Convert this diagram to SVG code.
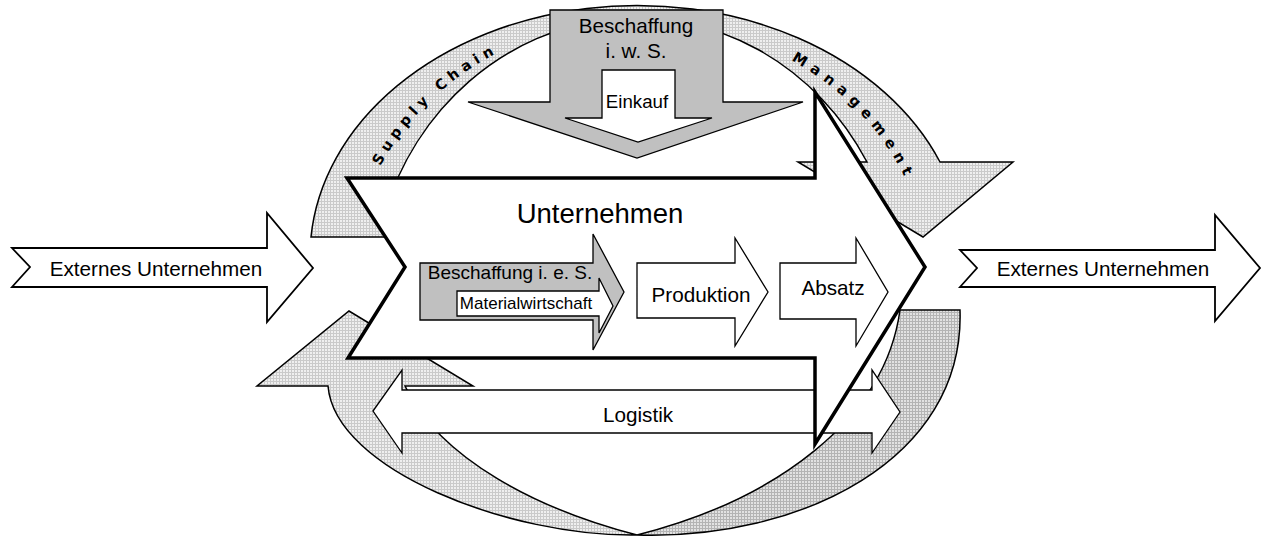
<svg xmlns="http://www.w3.org/2000/svg" width="1262" height="536" viewBox="0 0 1262 536">
<style>
text{font-family:"Liberation Sans",Arial,sans-serif;fill:#000}
.t{font-size:20.7px;text-anchor:middle}
.thin{fill:#fff;stroke:#000;stroke-width:1.3;stroke-linejoin:miter}
.gray{fill:#c0c0c0;stroke:#000;stroke-width:1.3}
.ring{stroke:#000;stroke-width:1.5;stroke-linejoin:miter}
.scm{font-family:"DejaVu Sans",sans-serif;font-size:14.5px;font-weight:bold;text-anchor:middle}
</style>
<defs>
<pattern id="pl" width="3" height="3" patternUnits="userSpaceOnUse"><rect width="3" height="3" fill="#efefef"/><rect width="1" height="3" fill="#cacaca"/><rect width="3" height="1" fill="#cacaca"/></pattern>
<pattern id="pd" width="3" height="3" patternUnits="userSpaceOnUse"><rect width="3" height="3" fill="#e2e2e2"/><rect width="1" height="3" fill="#b4b4b4"/><rect width="3" height="1" fill="#b4b4b4"/></pattern>
<path id="scPath" d="M361.4,212.2 A291,262 0 0 1 567.2,26.9"/>
<path id="mgPath" d="M737,37 A289,260 0 0 1 925,238"/>
</defs>

<g id="connectors">
<g id="scm-top">
<path class="ring" fill="url(#pl)" d="M311,237 A327,251 0 0 1 940,162 L1013,162 L923,237 L798,162 L867,162 A265,284 0 0 0 384,215 L395,237 Z"/>
<text class="scm" letter-spacing="5"><textPath href="#scPath" startOffset="46%">Supply Chain</textPath></text>
<text class="scm" letter-spacing="6.4"><textPath href="#mgPath" startOffset="50%">Management</textPath></text>
</g>
<g id="scm-bottom">
<path class="ring" fill="url(#pd)" d="M960,310 C965,460 800,540 637,535 C775,500 885,420 900,310 Z"/>
<path class="ring" fill="url(#pl)" d="M637,535 C510,537 335,470 328,386 L257,386 L349,311 L473,386 L405,386 C440,460 540,510 637,535 Z"/>
</g>
</g>

<g id="logistik">
<polygon class="thin" points="373,411 402,370 402,390 872,390 872,370 900,412 872,453 872,433 402,433 402,453"/>
<text class="t" x="638" y="422">Logistik</text>
</g>

<g id="beschaffung-iws">
<polygon class="gray" points="550,10 723,10 723,102 803,102 637,158 468,102 550,102"/>
<text class="t" x="636" y="33">Beschaffung</text>
<text class="t" x="636" y="58">i. w. S.</text>
</g>
<g id="einkauf">
<polygon class="thin" points="602,70 675,70 675,118 712,118 638,142 565,118 602,118"/>
<text x="637" y="108" font-size="18.7" text-anchor="middle">Einkauf</text>
</g>

<g id="unternehmen">
<polygon fill="#fff" stroke="#000" stroke-width="3.5" stroke-linejoin="miter" points="347,178 815,178 815,92 925,267 815,444 815,358 348,358 405,267"/>
<text x="600" y="223" font-size="27.5" text-anchor="middle">Unternehmen</text>
</g>

<g id="beschaffung-ies">
<polygon class="gray" points="420,263 593,263 593,234 624,292 593,350 593,320 420,320"/>
<text x="510" y="279" font-size="19" text-anchor="middle">Beschaffung i. e. S.</text>
</g>
<g id="materialwirtschaft">
<polygon class="thin" points="457,291 599,291 599,278 613,306 599,333 599,316 457,316"/>
<text x="526" y="309" font-size="17" text-anchor="middle">Materialwirtschaft</text>
</g>

<g id="produktion">
<polygon class="thin" points="637,263 735,263 735,238 768,292 735,346 735,318 637,318"/>
<text class="t" x="701" y="302">Produktion</text>
</g>

<g id="absatz">
<polygon class="thin" points="780,263 856,263 856,238 888,292 856,346 856,319 780,319"/>
<text class="t" x="833" y="295">Absatz</text>
</g>

<g id="extern-links">
<polygon fill="#fff" stroke="#000" stroke-width="1.8" points="12,248 267,248 267,213 313,268 267,322 267,287 12,287 30,267"/>
<text class="t" x="156" y="276">Externes Unternehmen</text>
</g>

<g id="extern-rechts">
<polygon fill="#fff" stroke="#000" stroke-width="1.8" points="960,250 1215,250 1215,215 1260,268 1215,321 1215,287 960,287 977,268"/>
<text class="t" x="1103" y="276">Externes Unternehmen</text>
</g>
</svg>
